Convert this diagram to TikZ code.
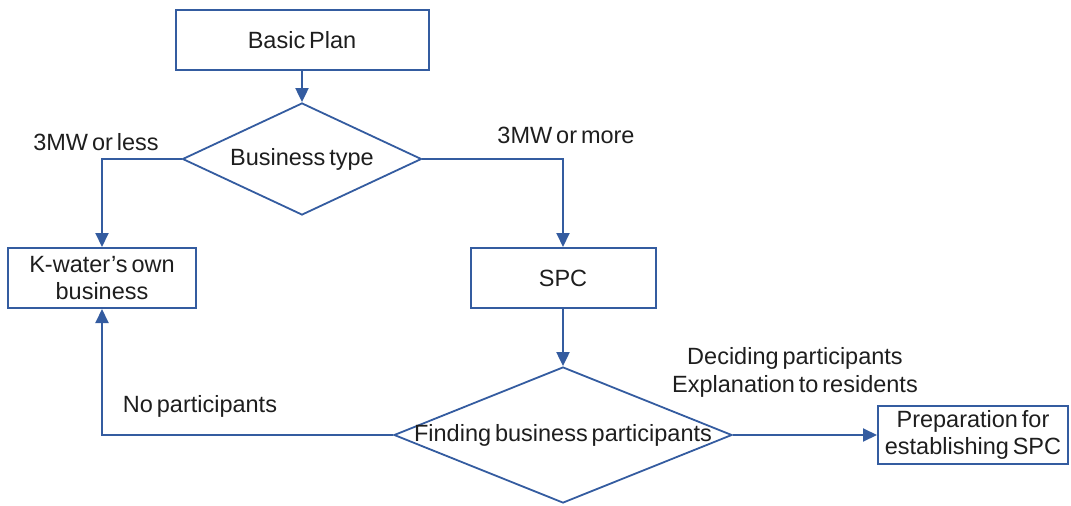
\documentclass[tikz,border=0pt]{standalone}
\usepackage{fontspec}
\setmainfont{Liberation Sans}[WordSpace=0.6]
\usetikzlibrary{shapes.geometric,arrows.meta}
\definecolor{flowblue}{RGB}{52,92,160}
\definecolor{flowtext}{RGB}{30,30,30}
\tikzset{
  box/.style={draw=flowblue, line width=2pt, rectangle, inner sep=0pt,
    align=center, text=flowtext, font=\fontsize{23.5}{27}\selectfont},
  decision/.style={draw=flowblue, line width=1.8pt, diamond, inner sep=0pt},
  dectext/.style={text=flowtext, font=\fontsize{23.5}{27}\selectfont},
  lbl/.style={text=flowtext, align=center, font=\fontsize{23.5}{28}\selectfont},
  flow/.style={draw=flowblue, line width=2pt,
    -{Triangle[length=14pt,width=13pt]}},
}
\begin{document}
\begin{tikzpicture}[x=1pt,y=-1pt]
  \useasboundingbox (0,0) rectangle (1071,506);

  % process boxes
  \node[box, minimum width=253pt, minimum height=60pt] (plan) at (302,40) {Basic Plan};
  \node[box, minimum width=188pt, minimum height=60pt] (kw) at (102,278) {K-water's own\\business};
  \node[box, minimum width=185pt, minimum height=60pt] (spc) at (563,278) {SPC};
  \node[box, minimum width=190pt, minimum height=58pt] (prep) at (973,435) {Preparation for\\establishing SPC};

  % decisions
  \node[decision, minimum width=239pt, minimum height=112pt,
        label={[dectext]center:Business type}] (type) at (302,159) {};
  \node[decision, minimum width=338pt, minimum height=136pt,
        label={[dectext]center:Finding business participants}] (find) at (563,435) {};

  % connectors
  \draw[flow] (plan.south) -- (type.north);
  \draw[flow] (type.west) -| (kw.north);
  \draw[flow] (type.east) -| (spc.north);
  \draw[flow] (spc.south) -- (find.north);
  \draw[flow] (find.west) -| (kw.south);
  \draw[flow] (find.east) -- (prep.west);

  % branch labels
  \node[lbl] (less) at (96,142) {3MW or less};
  \node[lbl] (more) at (566,135) {3MW or more};
  \node[lbl] (none) at (200,406) {No participants};
  \node[lbl] (yes) at (795,372) {Deciding participants\\Explanation to residents};
\end{tikzpicture}
\end{document}
